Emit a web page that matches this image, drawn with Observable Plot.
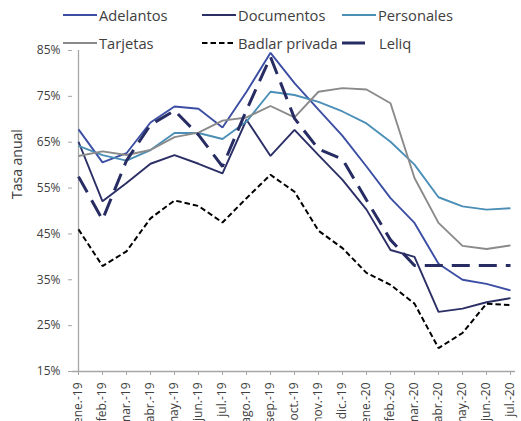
<!DOCTYPE html>
<html><head><meta charset="utf-8">
<script src="https://cdn.jsdelivr.net/npm/d3@7"></script>
<script src="https://cdn.jsdelivr.net/npm/@observablehq/plot@0.6"></script>
<style>
body{margin:0;background:#fff;}
#wrap{position:relative;width:521px;height:421px;overflow:hidden;font-family:"Open Sans",sans-serif;}
#legend{position:absolute;left:0;top:0;width:521px;height:60px;pointer-events:none;}
.item{position:absolute;display:flex;align-items:center;font-size:14.7px;color:#404040;white-space:nowrap;transform:translateY(-50%);}
.item svg{display:block;margin-right:1px;}
</style></head><body><div id="wrap"><div id="legend"></div></div>
<script>
const months = ["ene.-19","feb.-19","mar.-19","abr.-19","may.-19","jun.-19","jul.-19","ago.-19","sep.-19","oct.-19","nov.-19","dic.-19","ene.-20","feb.-20","mar.-20","abr.-20","may.-20","jun.-20","jul.-20"];
const seriesNames = ["Adelantos","Documentos","Personales","Tarjetas","Badlar privada","Leliq"];
const adelantos  = [67.8,60.6,62.6,69.3,72.8,72.3,68.2,76.0,84.5,77.9,72.1,66.4,59.7,52.8,47.4,38.5,35.0,34.1,32.7];
const documentos = [65.1,52.1,56.1,60.3,62.2,60.3,58.2,69.9,62.0,67.7,62.2,56.8,50.3,41.5,40.0,28.0,28.7,30.1,31.0];
const personales = [64.2,62.2,61.0,63.3,67.0,67.0,65.7,69.5,76.0,75.3,73.8,71.7,69.1,65.1,60.1,53.0,51.0,50.3,50.6];
const tarjetas   = [62.0,63.0,62.2,63.3,66.1,67.1,69.7,70.4,72.9,70.4,76.0,76.8,76.5,73.5,57.2,47.4,42.4,41.7,42.5];
const badlar     = [46.0,38.0,41.2,48.4,52.3,51.1,47.5,52.8,57.9,54.2,45.7,41.9,36.5,33.9,29.8,20.1,23.4,29.8,29.5];
const leliq      = [57.5,48.1,61.0,68.8,71.9,66.6,59.7,72.0,83.6,70.2,63.5,61.3,52.4,43.7,38.1,38.1,38.1,38.1,38.1];
const yTicks = [15,25,35,45,55,65,75,85];

const values = [adelantos, documentos, personales, tarjetas, badlar, leliq];
const styles = [
  {stroke:"#3b4ea3", width:1.9, dash:null},
  {stroke:"#2b2f66", width:1.9, dash:null},
  {stroke:"#4b8fb7", width:1.9, dash:null},
  {stroke:"#8a8a8a", width:1.9, dash:null},
  {stroke:"#000000", width:2, dash:"5.5,3"},
  {stroke:"#272d63", width:3, dash:"18,9"}
];

const rows = [];
seriesNames.forEach((s, k) => values[k].forEach((v, i) => rows.push({series:s, month:months[i], value:v})));

const lineMarks = seriesNames.map((s, k) => Plot.line(rows.filter(d => d.series === s), {
  x:"month", y:"value", stroke:styles[k].stroke, strokeWidth:styles[k].width,
  strokeDasharray:styles[k].dash, strokeLinejoin:"miter", strokeLinecap:"butt"
}));

const axisColor = "#a6a6a6";
const chart = Plot.plot({
  width:521, height:421,
  marginLeft:72, marginRight:6, marginTop:50, marginBottom:50,
  style:{fontFamily:"'Open Sans', sans-serif", color:"#404040", background:"transparent", overflow:"visible"},
  x:{type:"point", domain:months, padding:0},
  y:{domain:[15,85]},
  marks:[
    Plot.ruleY([15], {stroke:axisColor, strokeWidth:1.3}),
    Plot.ruleX([months[0]], {y1:15, y2:85, stroke:axisColor, strokeWidth:1.3}),
    Plot.axisY({ticks:yTicks, tickFormat:d => d + "%", tickSize:4, tickPadding:8, fontSize:12, stroke:axisColor, label:null}),
    Plot.axisX({tickRotate:-90, tickSize:4, tickPadding:7, fontSize:12, stroke:axisColor, label:null}),
    Plot.text(["Tasa anual"], {frameAnchor:"left", dx:-55, dy:-12, rotate:-90, fontSize:14, fill:"#404040"}),
    ...lineMarks
  ]
});
document.getElementById("wrap").prepend(chart);

// legend
const legendPos = [[63,15],[202,15],[342,15],[63,43],[202,43],[342,43]];
const legend = document.getElementById("legend");
seriesNames.forEach((s, k) => {
  const st = styles[k];
  const div = document.createElement("div");
  div.className = "item";
  div.style.left = legendPos[k][0] + "px";
  div.style.top = legendPos[k][1] + "px";
  const isLeliq = k === 5;
  const w = isLeliq ? 36 : 35;
  const len = isLeliq ? 23 : 34;
  const ns = "http://www.w3.org/2000/svg";
  const svg = document.createElementNS(ns, "svg");
  svg.setAttribute("width", w); svg.setAttribute("height", 8);
  const ln = document.createElementNS(ns, "line");
  ln.setAttribute("x1", 0); ln.setAttribute("x2", len); ln.setAttribute("y1", 4); ln.setAttribute("y2", 4);
  ln.setAttribute("stroke", st.stroke); ln.setAttribute("stroke-width", st.width);
  if (st.dash && !isLeliq) ln.setAttribute("stroke-dasharray", st.dash);
  svg.appendChild(ln);
  div.appendChild(svg);
  const sp = document.createElement("span");
  sp.textContent = s;
  div.appendChild(sp);
  legend.appendChild(div);
});
</script></body></html>
